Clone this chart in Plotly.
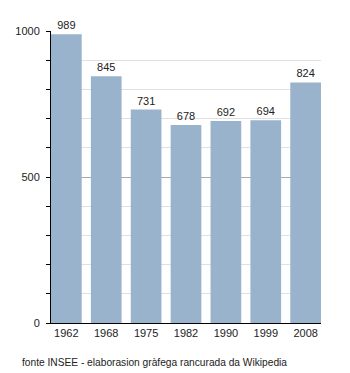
import plotly.graph_objects as go

years = ["1962", "1968", "1975", "1982", "1990", "1999", "2008"]
population = [989, 845, 731, 678, 692, 694, 824]
y_ticks = [0, 500, 1000]
source = "fonte INSEE - elaborasion gràfega rancurada da Wikipedia"

xpos = list(range(len(years)))

fig = go.Figure(go.Bar(
    x=xpos, y=population,
    marker=dict(color="#99b3cc", line=dict(width=0)),
    text=[str(v) for v in population],
    textposition="outside",
    textfont=dict(family="Liberation Sans, Arial, sans-serif", size=11, color="#222"),
    cliponaxis=False,
))

fig.update_layout(
    width=350, height=373,
    margin=dict(l=51, r=29, t=31, b=50),
    paper_bgcolor="white", plot_bgcolor="white",
    bargap=0.23,
    showlegend=False,
    font=dict(family="Liberation Sans, Arial, sans-serif", size=11, color="#222"),
    xaxis=dict(
        tickmode="array", tickvals=xpos, ticktext=years,
        range=[-0.385, len(years) - 1 + 0.385],
        showgrid=False, showline=True, linecolor="black", linewidth=1,
        ticks="", zeroline=False, fixedrange=True,
    ),
    yaxis=dict(
        range=[0, 1000], tickmode="array", tickvals=y_ticks,
        showgrid=True, gridcolor="#aaaaaa", gridwidth=1,
        showline=True, linecolor="black", linewidth=1,
        ticks="outside", ticklen=4, tickcolor="black",
        zeroline=False,
        minor=dict(dtick=100, tick0=0, showgrid=True, gridcolor="#e0e0e0",
                   ticks="outside", ticklen=4, tickcolor="black"),
        ticklabelstandoff=4,
    ),
    annotations=[dict(
        text=source, xref="paper", yref="paper",
        x=-31/270, y=-39/292, xanchor="left", yanchor="middle",
        showarrow=False, font=dict(size=10.2, color="#222"),
    )],
)

fig.write_html("out.html")
